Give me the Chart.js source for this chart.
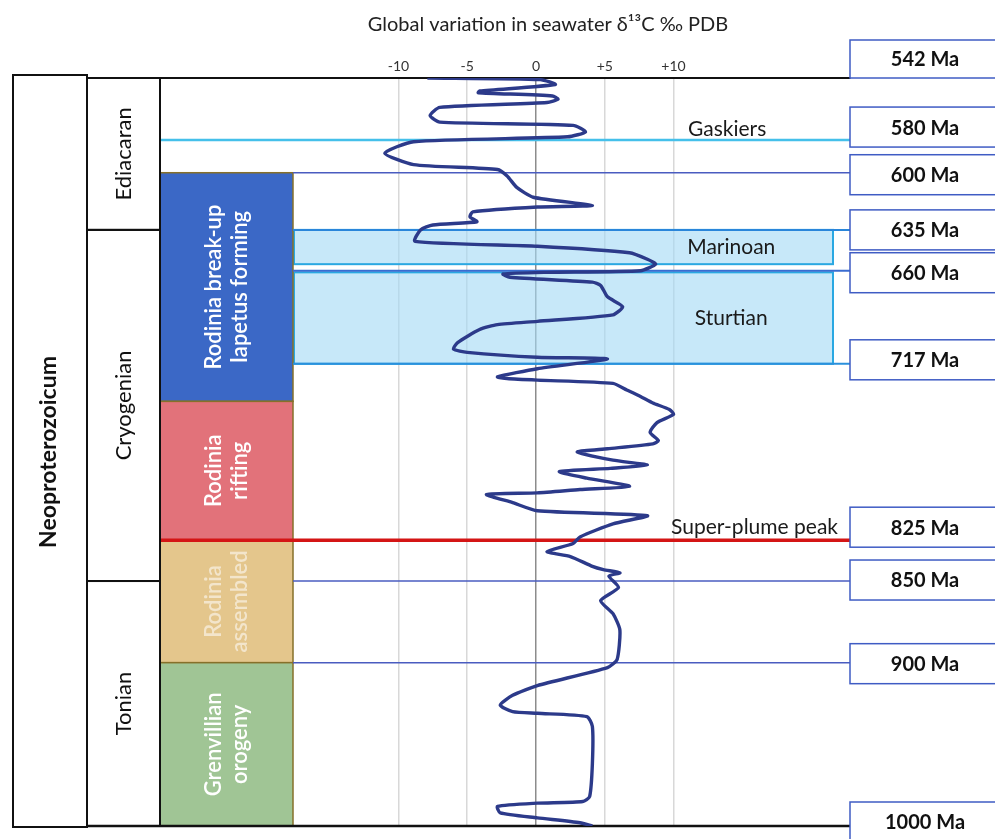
<!DOCTYPE html>
<html>
<head>
<meta charset="utf-8">
<title>Neoproterozoic seawater δ13C</title>
<script src="https://cdn.jsdelivr.net/npm/chart.js@4.4.1/dist/chart.umd.min.js"></script>
<style>
  html, body { margin: 0; padding: 0; background: #fff; }
  #wrap { width: 995px; height: 839px; }
</style>
</head>
<body>
<div id="wrap"><canvas id="c13" width="995" height="839"></canvas></div>
<script>
// traced curve, youngest first (Ma / permil)
const ages = [
  542, 543, 546, 550, 551, 553, 555, 557, 560, 565, 569, 571, 575, 578, 581, 588,
  595, 598, 602, 609, 615, 620, 621, 624, 627, 630, 632, 635, 642, 645, 649, 653,
  656, 660, 661, 662, 664, 667, 669, 676, 682, 687, 691, 693, 696, 704, 708, 710,
  713, 714, 720, 725, 726, 727, 729, 733, 737, 741, 745, 748, 753, 759, 764, 766,
  769, 771, 776, 779, 781, 783, 787, 792, 794, 796, 797, 802, 807, 810, 815, 823,
  827, 832, 835, 841, 843, 845, 847, 854, 862, 870, 880, 898, 903, 914, 920, 926,
  930, 931, 933, 939, 962, 982, 985, 986, 988, 992, 995, 998, 1000
];
const d13C = [
  -7.9, 0.3, 1.4, -4.1, -4.2, 1.2, 1.6, 0.8, -7.0, -7.7, -7.0, 2.7, 3.6, 2.3, -8.9, -11.0,
  -8.9, -2.8, -2.1, -1.4, -0.2, 4.1, 0.1, -4.6, -4.8, -4.3, -7.5, -8.4, -8.8, 0.1, 6.8, 8.1,
  8.7, 7.6, 0.8, -2.4, -1.9, 4.1, 4.7, 5.2, 6.3, 5.6, 0.1, -2.8, -4.1, -5.7, -6.0, -5.0,
  0.1, 5.2, 0.1, -2.8, -2.1, 0.1, 5.6, 6.6, 7.6, 8.5, 9.7, 10.0, 8.8, 8.3, 8.9, 8.5,
  5.2, 3.0, 5.6, 8.1, 5.4, 1.7, 3.7, 6.8, 3.2, 0.1, -3.6, -1.7, 0.1, 8.1, 5.6, 3.2,
  2.7, 0.8, 2.5, 4.1, 4.9, 6.1, 5.3, 6.0, 4.7, 5.6, 6.1, 5.9, 5.2, 0.1, -1.7, -2.6,
  -1.7, 0.1, 3.7, 4.1, 4.1, 3.9, 3.4, 0.1, -2.8, -2.6, 0.1, 3.2, 4.1
];

const xTicks = [-10, -5, 0, 5, 10];

// dated horizons with a box on the right
const horizonAges = [542, 580, 600, 635, 660, 717, 825, 850, 900, 1000];

// glaciations
const glacialNames = ["Marinoan", "Sturtian"];
const glacialFrom = [635, 661];
const glacialTo = [656, 717];

// single-horizon events
const eventNames = ["Gaskiers", "Super-plume peak"];
const eventAges = [580, 825];

const eraName = "Neoproterozoicum";
const periods = ["Ediacaran", "Cryogenian", "Tonian"];
const periodFrom = [542, 635, 850];
const periodTo = [635, 850, 1000];

const stages = [
  ["Rodinia break-up", "Iapetus forming"],
  ["Rodinia", "rifting"],
  ["Rodinia", "assembled"],
  ["Grenvillian", "orogeny"]
];
const stageFrom = [600, 740, 825, 900];
const stageTo = [740, 825, 900, 1000];

const FONT = "Lato, 'Open Sans', sans-serif";

// line look for each horizon (same order as horizonAges)
const horizonStyle = [
  { color: "#111", width: 2, from: "per" },
  { color: "#45c0ea", width: 2.5, from: "blk" },
  { color: "#4a5cc0", width: 1.5, from: "stage" },
  { color: "#2a86da", width: 2, from: "stage" },
  { color: "#3a6cd0", width: 2, from: "stage" },
  { color: "#2a90dc", width: 2, from: "stage" },
  { color: "#d41515", width: 3.5, from: "blk" },
  { color: "#4a5cc0", width: 1.5, from: "stage" },
  { color: "#4a5cc0", width: 1.5, from: "stage" },
  { color: "#111", width: 2.5, from: "per" }
];
const boxShift = [-19, -13, 2, 0, 2, -4, -13, -1, 1, -4];

const stageColors = ["#3b68c6", "#e2727a", "#e4c68c", "#a0c595"];

function vText(ctx, lines, cx, cy, gap) {
  ctx.save();
  ctx.translate(cx, cy);
  ctx.rotate(-Math.PI / 2);
  ctx.textAlign = "center";
  ctx.textBaseline = "middle";
  lines.forEach((l, i) => {
    ctx.fillText(l, 0, (i - (lines.length - 1) / 2) * gap);
  });
  ctx.restore();
}

const geology = {
  id: "geology",
  beforeDatasetsDraw(chart) {
    const { ctx, chartArea: a, scales: { x, y } } = chart;
    const eraL = 13, perL = 87, blkL = a.left, blkR = 293, bandR = a.right - 17;
    const startX = { per: perL, blk: blkL, stage: blkR };
    ctx.save();

    // glaciation bands
    glacialFrom.forEach((f, i) => {
      const t = y.getPixelForValue(f), b = y.getPixelForValue(glacialTo[i]);
      ctx.fillStyle = "rgba(165, 218, 246, 0.62)";
      ctx.fillRect(blkR, t, bandR - blkR, b - t);
      ctx.strokeStyle = "#2aa8e2";
      ctx.lineWidth = 2;
      ctx.strokeRect(blkR + 1, t, bandR - blkR - 1, b - t);
      ctx.fillStyle = "#1a1a1a";
      ctx.font = "21px " + FONT;
      ctx.textAlign = "center";
      ctx.textBaseline = "middle";
      ctx.fillText(glacialNames[i], x.getPixelForValue(14.2), (t + b) / 2);
    });

    // tectonic stages
    stageFrom.forEach((f, i) => {
      const t = y.getPixelForValue(f), b = y.getPixelForValue(stageTo[i]);
      ctx.fillStyle = stageColors[i];
      ctx.fillRect(blkL, t, blkR - blkL, b - t);
      ctx.strokeStyle = "#86702a";
      ctx.lineWidth = 1.5;
      ctx.strokeRect(blkL, t, blkR - blkL, b - t);
      ctx.fillStyle = i === 2 ? "rgba(255,255,255,0.55)" : "#fff";
      ctx.font = "600 22px " + FONT;
      vText(ctx, stages[i], (blkL + blkR) / 2, (t + b) / 2, 26);
    });

    // horizons
    horizonAges.forEach((m, i) => {
      const s = horizonStyle[i], py = y.getPixelForValue(m);
      ctx.strokeStyle = s.color;
      ctx.lineWidth = s.width;
      ctx.beginPath();
      ctx.moveTo(startX[s.from], py);
      ctx.lineTo(a.right, py);
      ctx.stroke();
    });

    // era and periods
    const top = y.getPixelForValue(542), bot = y.getPixelForValue(1000);
    ctx.strokeStyle = "#111";
    ctx.lineWidth = 2;
    ctx.strokeRect(eraL, top - 3, perL - eraL, bot - top + 4);
    ctx.fillStyle = "#111";
    ctx.font = "bold 23px " + FONT;
    vText(ctx, [eraName], (eraL + perL) / 2 - 1, (top + bot) / 2, 0);
    periods.forEach((p, i) => {
      const t = y.getPixelForValue(periodFrom[i]), b = y.getPixelForValue(periodTo[i]);
      ctx.strokeRect(perL, t, blkL - perL, b - t);
      ctx.font = "22px " + FONT;
      vText(ctx, [p], (perL + blkL) / 2, (t + b) / 2, 0);
    });

    // event labels sitting on their horizon
    ctx.font = "21px " + FONT;
    ctx.textBaseline = "alphabetic";
    ctx.fillStyle = "#1a1a1a";
    let py = y.getPixelForValue(eventAges[0]);
    ctx.textAlign = "center";
    ctx.fillText(eventNames[0], x.getPixelForValue(13.9), py - 4);
    py = y.getPixelForValue(eventAges[1]);
    ctx.textAlign = "right";
    ctx.fillText(eventNames[1], a.right - 12, py - 6);

    // age boxes
    horizonAges.forEach((m, i) => {
      const cy = y.getPixelForValue(m) + boxShift[i];
      const h = i === 0 ? 38 : 40;
      ctx.fillStyle = "#fff";
      ctx.fillRect(a.right, cy - h / 2, 150, h);
      ctx.strokeStyle = "#3f5cc4";
      ctx.lineWidth = 1.5;
      ctx.strokeRect(a.right, cy - h / 2, 150, h);
      ctx.fillStyle = "#111";
      ctx.font = "bold 20px " + FONT;
      ctx.textAlign = "center";
      ctx.textBaseline = "middle";
      ctx.fillText(m + " Ma", a.right + 75, cy + 1);
    });

    // title
    ctx.fillStyle = "#222";
    ctx.font = "20px " + FONT;
    ctx.textAlign = "center";
    ctx.textBaseline = "middle";
    ctx.fillText("Global variation in seawater δ\u00B9\u00B3C ‰ PDB", 548, 25);
    ctx.restore();
  }
};

const points = d13C.map((v, i) => ({ x: v, y: ages[i] }));

new Chart("c13", {
  type: "scatter",
  data: {
    datasets: [{
      data: points,
      showLine: true,
      borderColor: "#2c3a8a",
      borderWidth: 3.4,
      pointRadius: 0,
      tension: 0.2,
      fill: false
    }]
  },
  options: {
    responsive: false,
    animation: false,
    layout: { padding: { left: 160, right: 145, top: 56, bottom: 13 } },
    plugins: {
      legend: { display: false },
      tooltip: { enabled: false },
      title: { display: false }
    },
    scales: {
      x: {
        type: "linear",
        position: "top",
        min: -27.345,
        max: 22.836,
        afterBuildTicks: (s) => { s.ticks = xTicks.map((v) => ({ value: v })); },
        afterFit: (s) => { s.height = 22; },
        ticks: {
          callback: (v) => (v > 0 ? "+" + v : String(v)),
          font: { family: FONT, size: 14 },
          color: "#333",
          padding: 3,
          maxRotation: 0
        },
        grid: {
          drawTicks: false,
          color: (c) => (c.tick && c.tick.value === 0 ? "#8c8c8c" : "#d8d8d8"),
          lineWidth: 1.5
        },
        border: { display: true, color: "#111", width: 2 }
      },
      y: { type: "linear", reverse: true, min: 542, max: 1000, display: false }
    }
  },
  plugins: [geology]
});
</script>
</body>
</html>
